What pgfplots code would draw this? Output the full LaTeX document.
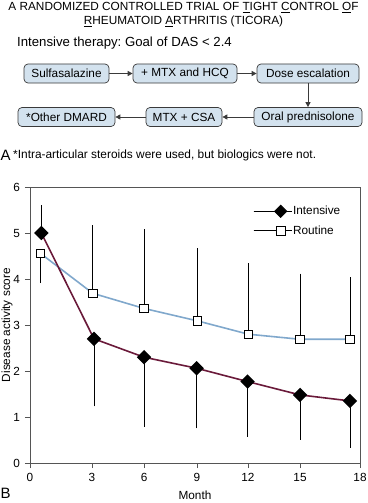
\documentclass[border=0pt]{standalone}
\usepackage{pgfplots}
\pgfplotsset{compat=1.18}
\usepackage{fontspec}
\setmainfont{Liberation Sans}
\usetikzlibrary{arrows.meta}
\definecolor{boxblue}{HTML}{D3E2EE}
\definecolor{boxedge}{HTML}{3A3A3A}
\definecolor{routine}{HTML}{80A8CC}
\definecolor{maroon}{HTML}{6A1A3A}
\definecolor{frame}{HTML}{555555}
\frenchspacing
\begin{document}
\fontsize{11.8pt}{14pt}\selectfont
\begin{tikzpicture}
\useasboundingbox (0pt,0pt) rectangle (367pt,-503pt);
% ---- Panel A text ----
\node[font=\fontsize{11.8pt}{14pt}\selectfont] at (183.5pt,-7.5pt) {A RANDOMIZED CONTROLLED TRIAL OF \underline{T}IGHT \underline{C}ONTROL \underline{O}F};
\node[font=\fontsize{11.8pt}{14pt}\selectfont] at (183.5pt,-21.5pt) {\underline{R}HEUMATOID \underline{A}RTHRITIS (TICORA)};
\node[anchor=west, inner sep=0pt, font=\fontsize{13.2pt}{15pt}\selectfont] at (17pt,-43pt) {Intensive therapy: Goal of DAS < 2.4};
\tikzset{fbox/.style={draw=boxedge, fill=boxblue, rounded corners=4pt, line width=0.7pt, minimum height=19pt, inner sep=0pt, font=\fontsize{11.8pt}{14pt}\selectfont},
 farr/.style={-{Triangle[length=5pt,width=5pt]}, line width=0.8pt, boxedge}}
\node[fbox, minimum width=85pt] (b1) at (66.5pt,-73.5pt) {Sulfasalazine};
\node[fbox, minimum width=104pt] (b2) at (185pt,-73.5pt) {+ MTX and HCQ};
\node[fbox, minimum width=102pt] (b3) at (308pt,-73.5pt) {Dose escalation};
\node[fbox, minimum width=97pt] (b4) at (66.5pt,-117pt) {*Other DMARD};
\node[fbox, minimum width=76pt] (b5) at (184pt,-117pt) {MTX + CSA};
\node[fbox, minimum width=108pt] (b6) at (308pt,-117pt) {Oral prednisolone};
\draw[farr] (b1.east) -- (b2.west);
\draw[farr] (b2.east) -- (b3.west);
\draw[farr] (b3.south) -- (b6.north);
\draw[farr] (b6.west) -- (b5.east);
\draw[farr] (b5.west) -- (b4.east);
\node[anchor=west, inner sep=0pt, font=\fontsize{15pt}{17pt}\selectfont] at (0.5pt,-155pt) {A};
\node[anchor=west, inner sep=0pt, font=\fontsize{11.9pt}{13pt}\selectfont] at (13pt,-155pt) {*Intra-articular steroids were used, but biologics were not.};
% ---- Panel B ----
\node[anchor=west, inner sep=0pt, font=\fontsize{15pt}{17pt}\selectfont] at (0.5pt,-493pt) {B};
\node[font=\fontsize{11.8pt}{14pt}\selectfont] at (195pt,-495pt) {Month};
\node[rotate=90, font=\fontsize{11.8pt}{14pt}\selectfont] at (7pt,-325pt) {Disease activity score};
\begin{axis}[
  at={(30pt,-463pt)}, anchor=south west,
  scale only axis, width=330pt, height=276pt,
  xmin=0, xmax=18, ymin=0, ymax=6,
  xtick={0,3.38,6.22,9.11,11.89,14.73,18},
  xticklabels={0,3,6,9,12,15,18},
  ytick={0,1,2,3,4,5,6},
  tick pos=left, tick align=outside, major tick length=5pt,
  axis line style={draw=frame, line width=0.8pt},
  tick style={draw=frame, line width=0.8pt},
  /pgf/number format/assume math mode=true,
  ticklabel style={font=\fontsize{11.8pt}{14pt}\selectfont},
  xticklabel style={yshift=-1pt},
  yticklabel style={xshift=-1pt},
  clip=false,
  legend style={draw=none, fill=none, at={(axis description cs:0.676,0.935)}, anchor=north west,
    inner sep=0pt, row sep=7pt, font=\fontsize{11.8pt}{14pt}\selectfont,
    nodes={inner sep=1pt}},
  legend cell align=left,
  legend image code/.code={\path (0pt,0pt) -- (38pt,0pt); \draw[mark repeat=2,mark phase=2,#1] plot coordinates {(0pt,0pt) (27pt,0pt)};},
]
% error bars (upper)
\addplot[forget plot, only marks, mark=none, black,
  error bars/.cd, y dir=plus, y explicit,
  error bar style={line width=0.8pt, black},
  error mark options={black, line width=0.8pt, mark size=4pt}]
  coordinates {
  (0.62,5.00) +- (0,0.52)
  (3.42,3.69) +- (0,1.39)
  (6.22,3.36) +- (0,1.64)
  (9.13,3.09) +- (0,1.49)
  (11.91,2.80) +- (0,1.46)
  (14.73,2.69) +- (0,1.34)
  (17.45,2.69) +- (0,1.26)
  };
% error bars (lower)
\addplot[forget plot, only marks, mark=none, black,
  error bars/.cd, y dir=minus, y explicit,
  error bar style={line width=0.8pt, black},
  error mark options={black, line width=0.8pt, mark size=4pt}]
  coordinates {
  (0.56,4.56) +- (0,0.56)
  (3.49,2.70) +- (0,1.38)
  (6.22,2.30) +- (0,1.43)
  (9.09,2.06) +- (0,1.22)
  (11.87,1.77) +- (0,1.11)
  (14.73,1.48) +- (0,0.89)
  (17.45,1.35) +- (0,0.93)
  };
% Routine
\addplot[forget plot, routine, line width=1.6pt, mark=square*, mark size=4.3pt,
  mark options={fill=white, draw=black, line width=0.8pt, solid}]
  coordinates {(0.56,4.56) (3.42,3.69) (6.22,3.36) (9.13,3.09) (11.91,2.80) (14.73,2.69) (17.45,2.69)};
% Intensive
\addplot[forget plot, maroon, line width=1.6pt, mark=square*, mark size=4.3pt,
  mark options={rotate=45, fill=black, draw=black, solid}]
  coordinates {(0.62,5.00) (3.49,2.70) (6.22,2.30) (9.09,2.06) (11.87,1.77) (14.73,1.48) (17.45,1.35)};
\addlegendimage{black, line width=0.8pt, mark=square*, mark size=4.3pt, mark options={rotate=45, fill=black, draw=black}}
\addlegendentry{Intensive}
\addlegendimage{black, line width=0.8pt, mark=square*, mark size=4.3pt, mark options={fill=white, draw=black}}
\addlegendentry{Routine}
\end{axis}
\end{tikzpicture}
\end{document}
